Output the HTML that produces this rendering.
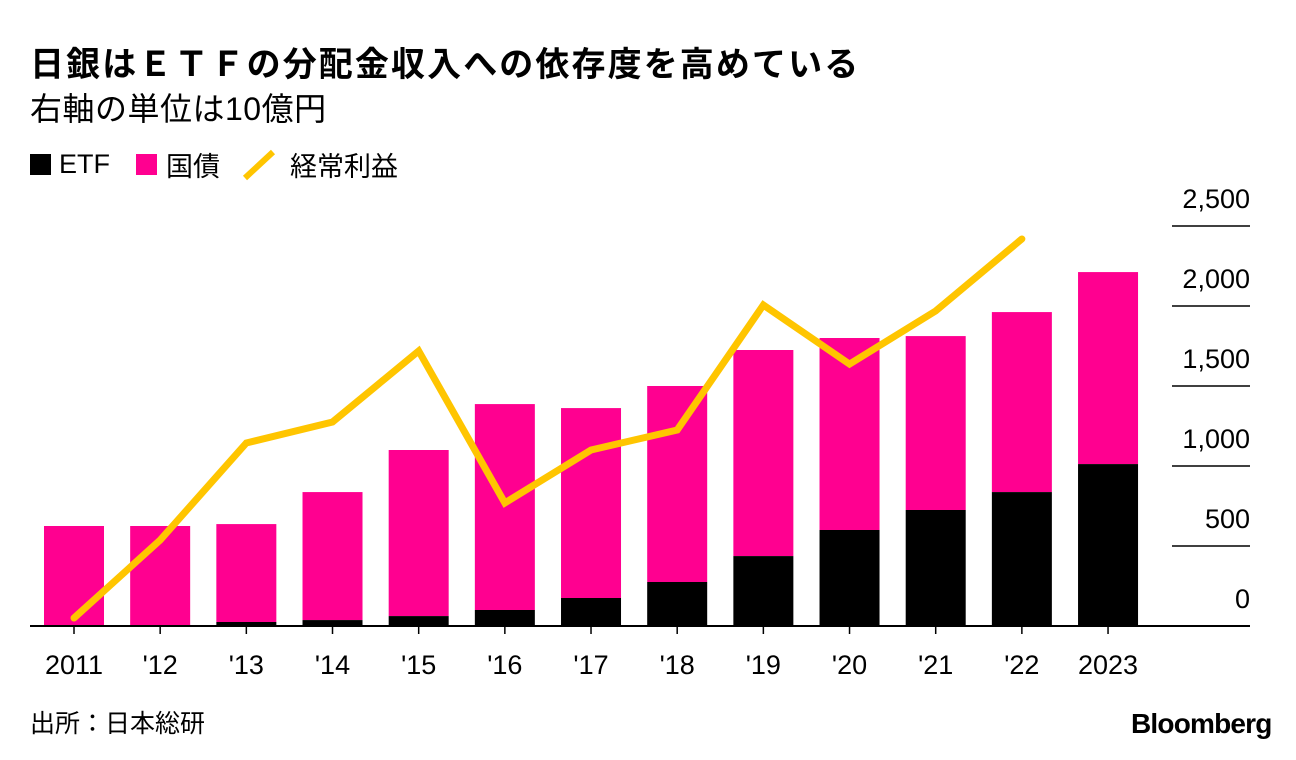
<!DOCTYPE html>
<html><head><meta charset="utf-8"><style>
body{margin:0;background:#fff;font-family:"Liberation Sans","Noto Sans CJK JP",sans-serif;}
#wrap{position:relative;width:1296px;height:760px;overflow:hidden;}
.t{position:absolute;color:#000;white-space:nowrap;}
</style></head><body>
<div id="wrap">
<div class="t" style="left:30px;top:37px;font-size:34px;font-weight:bold;letter-spacing:2.1px">日銀はＥＴＦの分配金収入への依存度を高めている</div>
<div class="t" style="left:30px;top:84px;font-size:32px;letter-spacing:0.5px">右軸の単位は10億円</div>
<div class="t" style="left:30px;top:145px;font-size:27px;display:flex;align-items:center;">
<span style="display:flex;align-items:center;"><span style="display:inline-block;width:21px;height:21px;background:#000;margin-right:8px"></span>ETF</span>
<span style="display:flex;align-items:center;margin-left:26px"><span style="display:inline-block;width:21px;height:21px;background:#ff0090;margin-right:9px"></span>国債</span>
<span style="display:flex;align-items:center;margin-left:22px"><svg width="34" height="32" style="margin-right:14px"><line x1="3" y1="29" x2="31" y2="3" stroke="#ffc500" stroke-width="6"/></svg>経常利益</span>
</div>
<svg id="chart" width="1296" height="760" style="position:absolute;left:0;top:0"></svg>
<div class="t" style="left:30px;top:704px;font-size:25px;">出所：日本総研</div>
<div class="t" style="left:1131px;top:708px;font-size:28px;font-weight:bold;letter-spacing:-0.8px">Bloomberg</div>
</div>
<script>
const categories=["2011","'12","'13","'14","'15","'16","'17","'18","'19","'20","'21","'22","2023"];
const etfValues=[0,3,25,37,62,100,175,275,437,600,725,837,1012];
const totalValues=[625,625,637,837,1100,1387,1362,1500,1725,1800,1812,1962,2212];
const profitValues=[50,537,1144,1275,1719,769,1100,1225,2006,1637,1969,2419];
const yTicks=[0,500,1000,1500,2000,2500];
const yTickLabels=["0","500","1,000","1,500","2,000","2,500"];
const NS="http://www.w3.org/2000/svg";
const svg=document.getElementById('chart');
const y=v=>626-v*0.16;
const x=i=>74+i*86.17;
function mk(tag,attrs){const e=document.createElementNS(NS,tag);for(const k in attrs)e.setAttribute(k,attrs[k]);svg.appendChild(e);return e;}
yTicks.forEach((t,i)=>{
 if(t>0){const l=mk('line',{x1:1172,x2:1250,y1:y(t),y2:y(t),stroke:'#000','stroke-width':1.5});
 
 }
 const tx=mk('text',{x:1250,y:y(t)-18,'text-anchor':'end','font-size':27,'font-family':'Liberation Sans, sans-serif'});
 tx.textContent=yTickLabels[i];
 
 
});
categories.forEach((c,i)=>{
 const tot=totalValues[i],etf=etfValues[i];
 const p=mk('rect',{x:x(i)-30,y:y(tot),width:60,height:y(etf)-y(tot),fill:'#ff0090'});
 
 
 const b=mk('rect',{x:x(i)-30,y:y(etf),width:60,height:626-y(etf),fill:'#000'});
 
 
 const tk=mk('line',{x1:x(i),x2:x(i),y1:626,y2:634,stroke:'#000','stroke-width':1.5});
 
 
 const tx=mk('text',{x:x(i),y:674,'text-anchor':'middle','font-size':27,'font-family':'Liberation Sans, sans-serif'});
 tx.textContent=c;
 
 
});
const ax=mk('line',{x1:30,x2:1250,y1:626,y2:626,stroke:'#000','stroke-width':2});


const pl=mk('polyline',{points:profitValues.map((v,i)=>x(i)+','+y(v)).join(' '),fill:'none',stroke:'#ffc500','stroke-width':7,'stroke-linejoin':'miter','stroke-linecap':'round'});


</script>
</body></html>
